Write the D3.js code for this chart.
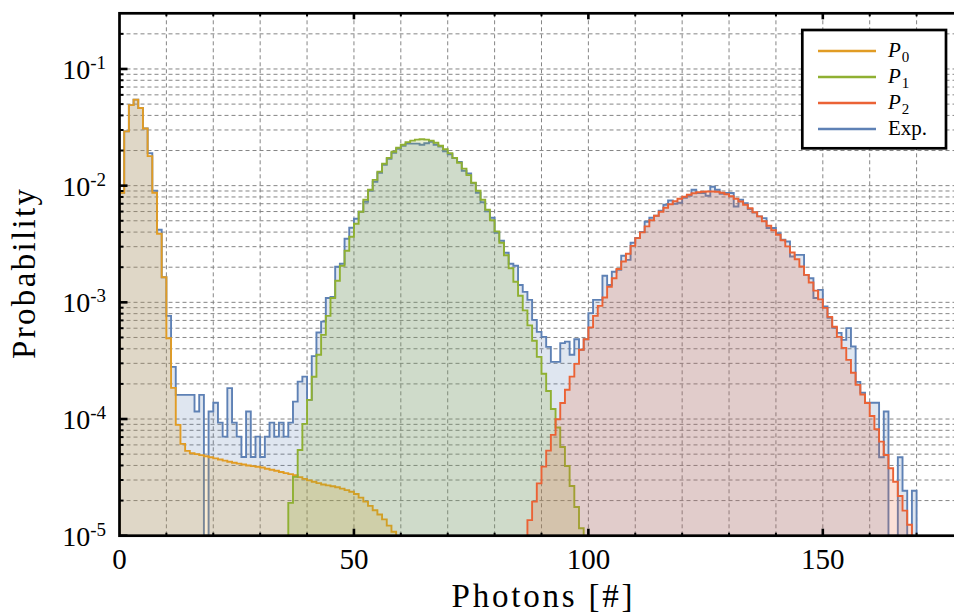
<!DOCTYPE html>
<html>
<head>
<meta charset="utf-8">
<script src="https://cdn.jsdelivr.net/npm/d3@7"></script>
<style>
  body { margin: 0; background: #fff; }
  svg { display: block; }
  text { font-family: "Liberation Serif", "Times New Roman", serif; fill: #000; }
</style>
</head>
<body>
<svg id="chart" width="954" height="616"></svg>
<script>
// Photon-number histograms; bin n spans [n, n+1).
const p0Start = 0;
const p0Values = [
  8.7e-3, 2.92e-2, 4.9e-2, 5.46e-2, 4.63e-2, 3.09e-2, 1.79e-2, 8.7e-3, 3.87e-3, 1.64e-3,
  4.93e-4, 1.85e-4, 8.9e-5, 6.12e-5, 5.33e-5, 5.09e-5, 5.0e-5, 4.9e-5, 4.8e-5, 4.7e-5,
  4.6e-5, 4.5e-5, 4.4e-5, 4.3e-5, 4.22e-5, 4.15e-5, 4.08e-5, 4.0e-5, 3.95e-5, 3.9e-5,
  3.84e-5, 3.75e-5, 3.67e-5, 3.6e-5, 3.52e-5, 3.44e-5, 3.37e-5, 3.3e-5, 3.18e-5, 3.07e-5,
  2.98e-5, 2.9e-5, 2.82e-5, 2.75e-5, 2.7e-5, 2.65e-5, 2.6e-5, 2.53e-5, 2.46e-5, 2.38e-5,
  2.28e-5, 2.12e-5, 1.96e-5, 1.8e-5, 1.65e-5, 1.52e-5, 1.38e-5, 1.22e-5, 1.08e-5
];

const p1Start = 36;
const p1Values = [
  1.91e-5, 3.19e-5, 5.43e-5, 9.08e-5, 1.46e-4, 2.30e-4, 3.55e-4, 5.26e-4, 7.66e-4, 1.09e-3,
  1.53e-3, 2.06e-3, 2.77e-3, 3.65e-3, 4.71e-3, 5.97e-3, 7.57e-3, 9.22e-3, 1.12e-2, 1.32e-2,
  1.54e-2, 1.73e-2, 1.95e-2, 2.11e-2, 2.24e-2, 2.36e-2, 2.43e-2, 2.48e-2, 2.50e-2, 2.48e-2,
  2.43e-2, 2.33e-2, 2.20e-2, 2.05e-2, 1.90e-2, 1.73e-2, 1.57e-2, 1.40e-2, 1.23e-2, 1.06e-2,
  9.04e-3, 7.57e-3, 6.21e-3, 5.05e-3, 4.06e-3, 3.24e-3, 2.53e-3, 1.96e-3, 1.50e-3, 1.14e-3,
  8.54e-4, 6.35e-4, 4.68e-4, 3.41e-4, 2.44e-4, 1.74e-4, 1.22e-4, 8.47e-5, 5.76e-5, 3.96e-5,
  2.67e-5, 1.76e-5, 1.16e-5
];

const p2Start = 87;
const p2Values = [
  1.36e-5, 1.96e-5, 2.81e-5, 3.91e-5, 5.36e-5, 7.31e-5, 9.96e-5, 1.37e-4, 1.78e-4, 2.31e-4,
  2.97e-4, 3.92e-4, 4.82e-4, 6.10e-4, 7.66e-4, 9.33e-4, 1.10e-3, 1.36e-3, 1.61e-3, 1.93e-3,
  2.24e-3, 2.61e-3, 3.05e-3, 3.55e-3, 3.98e-3, 4.48e-3, 5.05e-3, 5.52e-3, 5.97e-3, 6.46e-3,
  6.93e-3, 7.35e-3, 7.72e-3, 8.03e-3, 8.35e-3, 8.61e-3, 8.78e-3, 8.87e-3, 8.92e-3, 8.92e-3,
  8.87e-3, 8.69e-3, 8.44e-3, 8.11e-3, 7.72e-3, 7.32e-3, 6.86e-3, 6.40e-3, 5.91e-3, 5.45e-3,
  4.95e-3, 4.53e-3, 4.15e-3, 3.79e-3, 3.40e-3, 3.02e-3, 2.67e-3, 2.34e-3, 2.03e-3, 1.72e-3,
  1.48e-3, 1.26e-3, 1.06e-3, 8.97e-4, 7.51e-4, 6.17e-4, 5.06e-4, 4.07e-4, 3.21e-4, 2.49e-4,
  1.96e-4, 1.62e-4, 1.37e-4, 1.06e-4, 8.18e-5, 6.40e-5, 4.92e-5, 3.79e-5, 2.90e-5, 2.19e-5,
  1.64e-5, 1.24e-5
];

// Measured distribution; 0 marks empty bins.
const expStart = 0;
const expValues = [
  8.7e-3, 2.92e-2, 4.9e-2, 5.46e-2, 4.63e-2, 3.09e-2, 1.90e-2, 9.04e-3, 4.19e-3, 1.64e-3,
  7.66e-4, 2.80e-4, 1.61e-4, 1.61e-4, 1.61e-4, 1.61e-4, 1.16e-4, 1.61e-4, 0, 1.16e-4,
  1.38e-4, 9.31e-5, 7.07e-5, 1.84e-4, 9.31e-5, 7.07e-5, 4.73e-5, 1.16e-4, 4.73e-5, 7.07e-5,
  4.73e-5, 7.07e-5, 9.31e-5, 7.07e-5, 9.31e-5, 7.07e-5, 9.31e-5, 1.41e-4, 2.09e-4, 2.31e-4,
  1.46e-4, 3.46e-4, 5.51e-4, 6.84e-4, 1.09e-3, 1.11e-3, 2.02e-3, 2.14e-3, 3.51e-3, 4.36e-3,
  5.20e-3, 5.97e-3, 7.28e-3, 9.04e-3, 1.08e-2, 1.29e-2, 1.51e-2, 1.70e-2, 1.91e-2, 2.07e-2,
  2.20e-2, 2.29e-2, 2.29e-2, 2.29e-2, 2.24e-2, 2.31e-2, 2.38e-2, 2.24e-2, 2.16e-2, 1.97e-2,
  1.86e-2, 1.72e-2, 1.60e-2, 1.34e-2, 1.27e-2, 1.05e-2, 8.69e-3, 7.21e-3, 6.03e-3, 5.31e-3,
  3.95e-3, 3.37e-3, 2.66e-3, 2.14e-3, 2.06e-3, 1.41e-3, 1.23e-3, 1.05e-3, 7.08e-4, 5.58e-4,
  5.06e-4, 4.15e-4, 3.09e-4, 3.09e-4, 4.47e-4, 4.61e-4, 3.55e-4, 4.83e-4, 3.92e-4, 4.83e-4,
  8.08e-4, 1.05e-3, 1.05e-3, 1.69e-3, 1.41e-3, 1.83e-3, 1.90e-3, 2.51e-3, 2.31e-3, 3.24e-3,
  3.57e-3, 4.02e-3, 4.90e-3, 5.31e-3, 5.52e-3, 6.09e-3, 6.86e-3, 7.47e-3, 7.00e-3, 7.13e-3,
  7.87e-3, 8.19e-3, 9.22e-3, 8.64e-3, 8.64e-3, 8.19e-3, 9.8e-3, 9.22e-3, 8.52e-3, 8.64e-3,
  8.64e-3, 6.63e-3, 7.57e-3, 7.09e-3, 6.30e-3, 5.89e-3, 5.45e-3, 5.27e-3, 4.33e-3, 4.33e-3,
  3.92e-3, 3.44e-3, 3.32e-3, 2.47e-3, 2.55e-3, 2.55e-3, 1.72e-3, 1.61e-3, 1.09e-3, 1.28e-3,
  9.2e-4, 7.36e-4, 6.04e-4, 5.47e-4, 4.77e-4, 6.01e-4, 4.18e-4, 2.08e-4, 1.68e-4, 1.38e-4,
  1.38e-4, 1.38e-4, 4.70e-5, 1.16e-4, 0, 0, 4.70e-5, 2.43e-5, 0, 2.43e-5
];

const legendLabels = [["P", "0"], ["P", "1"], ["P", "2"], ["Exp.", ""]];
const xTickLabels = [0, 50, 100, 150];
const xGridValues = [10, 20, 30, 40, 50, 60, 70, 80, 90, 100, 110, 120, 130, 140, 150, 160, 170];
const yDecadeExponents = [-1, -2, -3, -4, -5];
const xDomain = [0, 178];
const yDomain = [1e-5, 0.3];

const colors = { p0: "#e19c24", p1: "#8fb032", p2: "#eb6235", exp: "#5e81b5" };

const svg = d3.select("#chart");
const plotL = 119.5, plotR = 954.1, plotT = 13.3, plotB = 535.7;

const x = d3.scaleLinear().domain(xDomain).range([plotL, plotR]);
const y = d3.scaleLog().domain(yDomain).range([plotB, plotT]);
const floorValue = yDomain[0];
const yv = v => y(Math.max(v, floorValue));

// minor log positions (2..9 x 10^k) plus decades inside the domain
const yGridValues = [];
for (let e = -5; e <= -1; e++) {
  for (let m = 1; m <= 9; m++) {
    const v = +(m * Math.pow(10, e)).toPrecision(3);
    if (v > yDomain[0] && v < yDomain[1]) yGridValues.push(v);
  }
}

svg.append("defs").append("clipPath").attr("id", "plotClip")
  .append("rect").attr("x", plotL).attr("y", plotT)
  .attr("width", plotR - plotL).attr("height", plotB - plotT);

// dashed grid
const grid = svg.append("g").attr("stroke", "#858585").attr("stroke-width", 1)
  .attr("stroke-dasharray", "4,3");
grid.selectAll("line.gx").data(xGridValues).join("line")
  .attr("x1", d => x(d)).attr("x2", d => x(d)).attr("y1", plotT).attr("y2", plotB);
grid.selectAll("line.gy").data(yGridValues).join("line")
  .attr("x1", plotL).attr("x2", plotR).attr("y1", d => y(d)).attr("y2", d => y(d));

// histogram outline points, closed down to the floor on both ends
function histPoints(start, values) {
  const pts = [[start, floorValue]];
  values.forEach((v, i) => { pts.push([start + i, v]); pts.push([start + i + 1, v]); });
  pts.push([start + values.length, floorValue]);
  return pts;
}
const line = d3.line().x(d => x(d[0])).y(d => yv(d[1]));
const area = d3.area().x(d => x(d[0])).y0(y(floorValue)).y1(d => yv(d[1]));

const series = [
  { start: expStart, values: expValues, color: colors.exp },
  { start: p0Start, values: p0Values, color: colors.p0 },
  { start: p1Start, values: p1Values, color: colors.p1 },
  { start: p2Start, values: p2Values, color: colors.p2 }
];

const plot = svg.append("g").attr("clip-path", "url(#plotClip)");
series.forEach(s => {
  const pts = histPoints(s.start, s.values);
  plot.append("path").attr("d", area(pts)).attr("fill", s.color).attr("fill-opacity", 0.2);
  plot.append("path").attr("d", line(pts)).attr("fill", "none")
    .attr("stroke", s.color).attr("stroke-width", 1.9).attr("stroke-linejoin", "miter");
});

// frame
svg.append("rect").attr("x", plotL).attr("y", plotT)
  .attr("width", plotR - plotL + 4).attr("height", plotB - plotT)
  .attr("fill", "none").attr("stroke", "#000").attr("stroke-width", 2.7);

// ticks
const ticks = svg.append("g").attr("stroke", "#000");
const isMajorX = v => v % 50 === 0;
ticks.append("g").selectAll("line").data(xGridValues).join("line")
  .attr("x1", d => x(d)).attr("x2", d => x(d))
  .attr("y1", plotB).attr("y2", d => plotB - (isMajorX(d) ? 7 : 3))
  .attr("stroke-width", d => isMajorX(d) ? 2.6 : 2);
ticks.append("g").selectAll("line").data(xGridValues).join("line")
  .attr("x1", d => x(d)).attr("x2", d => x(d))
  .attr("y1", plotT).attr("y2", d => plotT + (isMajorX(d) ? 6 : 3))
  .attr("stroke-width", d => isMajorX(d) ? 2.6 : 2);
const decades = yDecadeExponents.map(e => Math.pow(10, e));
ticks.append("g").selectAll("line").data(yGridValues.filter(v => !decades.some(d => Math.abs(d - v) / d < 1e-6))).join("line")
  .attr("x1", plotL).attr("x2", plotL + 4).attr("y1", d => y(d)).attr("y2", d => y(d))
  .attr("stroke-width", 2);
ticks.append("g").selectAll("line").data(decades).join("line")
  .attr("x1", plotL).attr("x2", plotL + 8).attr("y1", d => y(d)).attr("y2", d => y(d))
  .attr("stroke-width", 2.6);

// tick labels
svg.append("g").selectAll("text").data(xTickLabels).join("text")
  .attr("x", d => x(d)).attr("y", 569).attr("text-anchor", "middle")
  .attr("font-size", 29).text(d => d);

const yLab = svg.append("g").selectAll("text").data(yDecadeExponents).join("text")
  .attr("x", 106).attr("y", d => y(Math.pow(10, d)) + 10)
  .attr("text-anchor", "end").attr("font-size", 28);
yLab.append("tspan").text("10");
yLab.append("tspan").attr("font-size", 19).attr("dy", -10).text(d => "-" + Math.abs(d));

// axis titles
svg.append("text").attr("x", 542).attr("y", 607)
  .attr("text-anchor", "middle").attr("font-size", 33)
  .attr("textLength", 181).attr("lengthAdjust", "spacing").text("Photons [#]");
svg.append("text").attr("transform", "translate(35,274) rotate(-90)")
  .attr("text-anchor", "middle").attr("font-size", 33)
  .attr("textLength", 170).attr("lengthAdjust", "spacing").text("Probability");

// legend
const legend = svg.append("g");
legend.append("rect").attr("x", 802.3).attr("y", 30).attr("width", 143.7).attr("height", 118.3)
  .attr("fill", "#fff").attr("stroke", "#000").attr("stroke-width", 2.7);
const legendColors = [colors.p0, colors.p1, colors.p2, colors.exp];
legendLabels.forEach((lab, i) => {
  const cy = 51 + i * 26;
  legend.append("line").attr("x1", 818).attr("x2", 876).attr("y1", cy).attr("y2", cy)
    .attr("stroke", legendColors[i]).attr("stroke-width", 2.6);
  const t = legend.append("text").attr("x", 888).attr("y", cy + 6).attr("font-size", 21);
  if (lab[1]) {
    t.append("tspan").attr("font-style", "italic").text(lab[0]);
    t.append("tspan").attr("font-size", 15).attr("dy", 5).attr("dx", 1).text(lab[1]);
  } else {
    t.text(lab[0]);
  }
});
</script>
</body>
</html>
